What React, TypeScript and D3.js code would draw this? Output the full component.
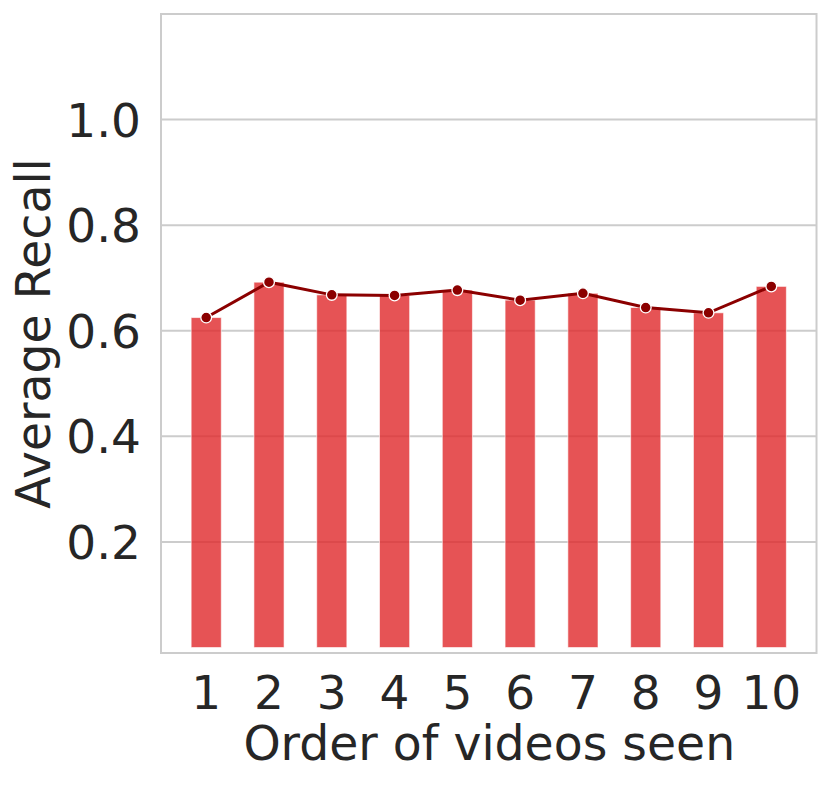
import React from "react";
import * as d3 from "d3";

const categories = ["1", "2", "3", "4", "5", "6", "7", "8", "9", "10"];
const recallValues = [0.625, 0.692, 0.668, 0.667, 0.677, 0.658, 0.671, 0.644, 0.634, 0.684];
const yTicks = [0.2, 0.4, 0.6, 0.8, 1.0];

const W = 831;
const H = 785;
const left = 161;
const right = 816.5;
const top = 14;
const bottom = 653;

export default function App() {
  const x = d3.scaleLinear().domain([-0.72, categories.length - 1 + 0.72]).range([left, right]);
  const y = d3.scaleLinear().domain([-0.0104, 1.2]).range([bottom, top]);
  const bw = (x(1) - x(0)) * 0.48;
  const line = d3
    .line<number>()
    .x((_, i) => x(i))
    .y((d) => y(d));
  const font = "'DejaVu Sans', sans-serif";
  const txt = "#262626";
  return (
    <svg width={W} height={H} style={{ position: "absolute", left: 0, top: 0 }} fontFamily={font}>
      <rect x={0} y={0} width={W} height={H} fill="#fff" />
      {yTicks.map((t) => (
        <line key={"g" + t} x1={left} x2={right} y1={y(t)} y2={y(t)} stroke="#cccccc" strokeWidth={2} />
      ))}
      {recallValues.map((v, i) => (
        <rect
          key={"b" + i}
          x={x(i) - bw / 2}
          y={y(v)}
          width={bw}
          height={y(0) - y(v)}
          fill="#e0282b"
          fillOpacity={0.8}
          stroke="#ffffff"
          strokeOpacity={0.6}
          strokeWidth={1}
        />
      ))}
      <path d={line(recallValues) || ""} fill="none" stroke="#8b0000" strokeWidth={3} />
      {recallValues.map((v, i) => (
        <circle key={"m" + i} cx={x(i)} cy={y(v)} r={5.4} fill="#8b0000" stroke="#ffffff" strokeWidth={1.3} />
      ))}
      <rect x={left} y={top} width={right - left} height={bottom - top} fill="none" stroke="#cccccc" strokeWidth={2} />
      {yTicks.map((t) => (
        <text key={"yt" + t} x={141} y={y(t)} dy="0.36em" textAnchor="end" fontSize={47} fill={txt}>
          {t.toFixed(1)}
        </text>
      ))}
      {categories.map((c, i) => (
        <text key={"xt" + c} x={x(i)} y={709} textAnchor="middle" fontSize={47} fill={txt}>
          {c}
        </text>
      ))}
      <text x={(left + right) / 2 + 0.5} y={760} textAnchor="middle" fontSize={47.3} fill={txt}>
        Order of videos seen
      </text>
      <text
        transform={`translate(50, ${(top + bottom) / 2}) rotate(-90)`}
        textAnchor="middle"
        fontSize={47.3}
        fill={txt}
      >
        Average Recall
      </text>
    </svg>
  );
}
